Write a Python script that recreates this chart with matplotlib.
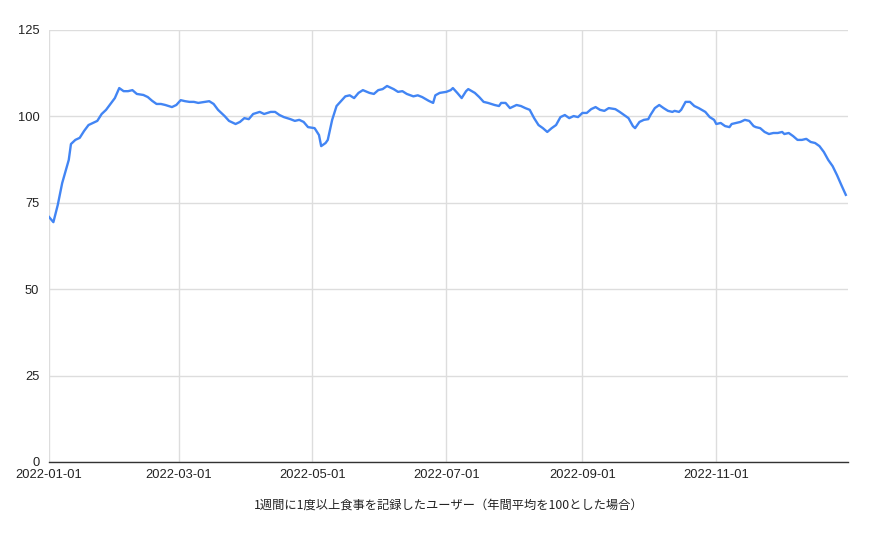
import pandas as pd
import matplotlib.pyplot as plt
import matplotlib.dates as mdates

plt.rcParams['font.family'] = ['Liberation Sans', 'Noto Sans CJK JP', 'DejaVu Sans']

# days since 2022-01-01 and index value (annual average = 100)
days = [0, 2, 4, 6, 9, 10, 12, 14, 16, 18, 20, 22, 24, 26, 28, 30, 32, 34, 36, 38,
        40, 43, 45, 47, 49, 51, 53, 56, 58, 60, 62, 64, 66, 68, 71, 73, 75, 77, 80, 82,
        85, 87, 89, 91, 93, 96, 98, 101, 103, 105, 107, 110, 112, 114, 116, 118, 121, 123, 124, 126,
        127, 129, 131, 133, 135, 137, 139, 141, 143, 146, 148, 150, 152, 154, 157, 159, 161, 163, 166, 168,
        170, 173, 175, 176, 178, 181, 183, 184, 186, 188, 190, 191, 194, 196, 198, 200, 203, 205, 206, 208,
        210, 213, 215, 217, 219, 221, 223, 225, 227, 229, 231, 233, 235, 237, 239, 241, 243, 245, 247, 249,
        251, 253, 255, 258, 260, 262, 264, 266, 267, 269, 271, 273, 274, 276, 278, 280, 282, 284, 285, 287,
        288, 290, 292, 294, 296, 299, 301, 303, 304, 306, 308, 310, 311, 313, 315, 317, 319, 321, 322, 324,
        326, 328, 330, 332, 334, 335, 337, 339, 341, 343, 345, 347, 349, 351, 353, 355, 357, 359, 361, 363]
values = [70.9, 69.4, 74.4, 80.7, 87.4, 92.0, 93.2, 93.8, 95.8, 97.5, 98.1, 98.7, 100.7, 101.9, 103.6, 105.3, 108.2, 107.3, 107.3, 107.6,
          106.5, 106.2, 105.6, 104.5, 103.6, 103.6, 103.3, 102.7, 103.3, 104.7, 104.4, 104.2, 104.2, 103.9, 104.2, 104.4, 103.6, 101.9, 100.1, 98.7,
          97.8, 98.4, 99.5, 99.2, 100.7, 101.3, 100.7, 101.3, 101.3, 100.4, 99.8, 99.2, 98.7, 99.0, 98.4, 96.9, 96.6, 94.6, 91.4, 92.3,
          93.2, 99.0, 103.0, 104.4, 105.8, 106.1, 105.3, 106.8, 107.6, 106.8, 106.5, 107.6, 107.9, 108.8, 107.9, 107.1, 107.3, 106.5, 105.8, 106.1,
          105.6, 104.5, 103.9, 106.1, 106.8, 107.1, 107.6, 108.2, 106.8, 105.3, 107.3, 107.9, 106.8, 105.6, 104.2, 103.9, 103.3, 103.0, 103.9, 103.9,
          102.4, 103.3, 103.0, 102.4, 101.9, 99.5, 97.5, 96.6, 95.5, 96.6, 97.5, 99.8, 100.4, 99.5, 100.1, 99.8, 101.0, 101.0, 102.1, 102.7,
          101.9, 101.6, 102.4, 102.1, 101.3, 100.4, 99.5, 97.2, 96.6, 98.4, 99.0, 99.2, 100.4, 102.4, 103.3, 102.4, 101.6, 101.3, 101.6, 101.3,
          101.9, 104.2, 104.2, 103.0, 102.4, 101.3, 99.8, 99.0, 97.8, 98.1, 97.2, 96.9, 97.8, 98.1, 98.4, 99.0, 98.7, 97.2, 96.9, 96.6,
          95.5, 94.9, 95.2, 95.2, 95.5, 94.9, 95.2, 94.3, 93.2, 93.2, 93.5, 92.6, 92.3, 91.4, 89.7, 87.4, 85.6, 83.0, 80.1, 77.3]

tick_labels = ['2022-01-01', '2022-03-01', '2022-05-01', '2022-07-01', '2022-09-01', '2022-11-01']
y_ticks = [0, 25, 50, 75, 100, 125]
x_title = '1週間に1度以上食事を記録したユーザー（年間平均を100とした場合）'

dates = pd.to_datetime('2022-01-01') + pd.to_timedelta(days, unit='D')
ticks = pd.to_datetime(tick_labels)

fig = plt.figure(figsize=(8.72, 5.35), dpi=100)
ax = fig.add_axes([49 / 872, 1 - 462 / 535, (848 - 49) / 872, (462 - 30) / 535])

ax.plot(dates, values, color='#4285f4', linewidth=1.7, solid_joinstyle='round')

ax.set_ylim(0, 125)
ax.set_xlim(pd.Timestamp('2022-01-01'), pd.Timestamp('2022-12-31'))
ax.set_yticks(y_ticks)
ax.set_xticks(ticks)
ax.set_xticklabels(tick_labels)
ax.grid(True, color='#dddddd', linewidth=1)
ax.set_axisbelow(True)

for s in ['top', 'right', 'left']:
    ax.spines[s].set_visible(False)
ax.spines['bottom'].set_color('#333333')
ax.spines['bottom'].set_linewidth(1)
ax.spines['bottom'].set_zorder(3)

ax.tick_params(axis='both', length=0, labelsize=9.3, colors='#222222')
ax.tick_params(axis='y', pad=7)
ax.tick_params(axis='x', pad=5)
# nudge the "0" label up a little so it clears the first date label
for lbl in ax.get_yticklabels():
    lbl.set_verticalalignment('center_baseline')

ax.set_xlabel(x_title, fontsize=8.8, color='#222222', labelpad=13,
              family=['Noto Sans CJK JP', 'DejaVu Sans'])

plt.savefig('out.png', dpi=100)
